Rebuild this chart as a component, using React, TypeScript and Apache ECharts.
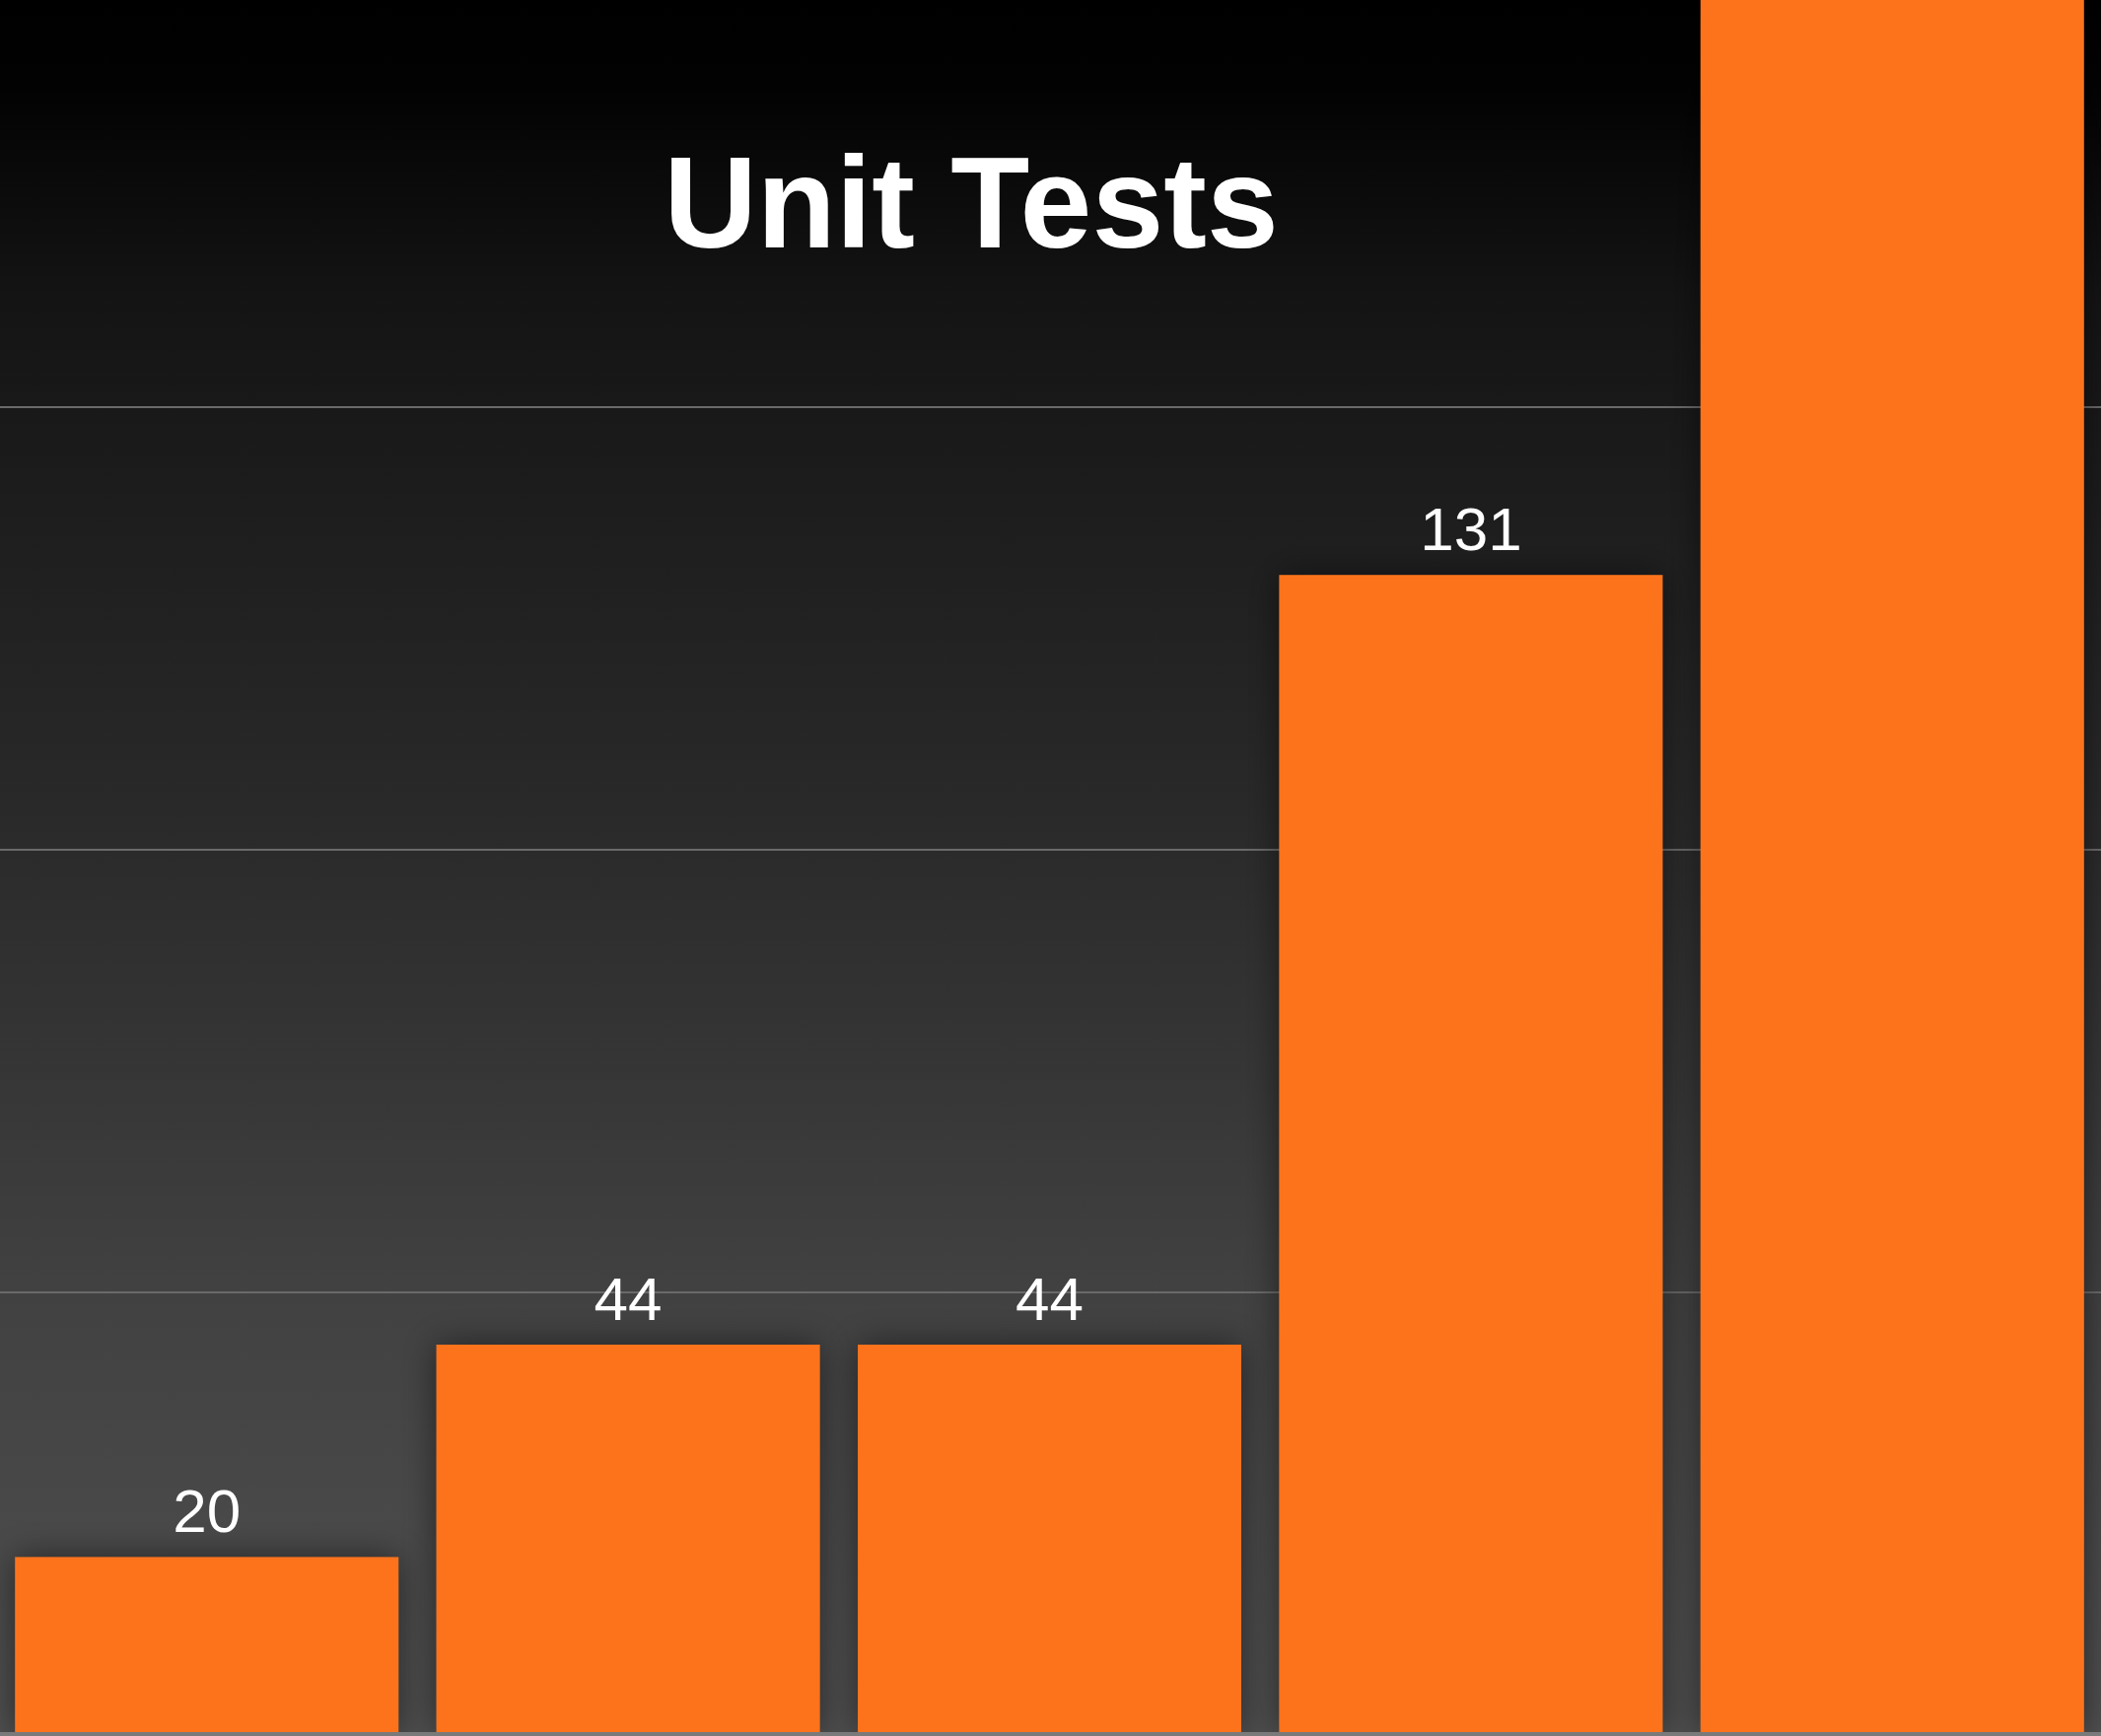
import React, { useEffect, useRef } from "react";
import * as echarts from "echarts";

const categories = ["Run 1", "Run 2", "Run 3", "Run 4", "Run 5"];
const unitTests = [20, 44, 44, 131, 230];
const titleText = "Unit Tests";
const yMin = 0;
const yMax = 196;
const yInterval = 50;

export default function App() {
  const ref = useRef<HTMLDivElement>(null);

  useEffect(() => {
    document.body.style.margin = "0";
    if (!ref.current) return;
    const chart = echarts.init(ref.current, undefined, { renderer: "svg" });
    const barData = unitTests.map((v) => ({
      value: v,
      label: { show: v <= yMax },
    }));
    chart.setOption({
      animation: false,
      graphic: [
        {
          type: "text",
          x: 989,
          y: 205,
          z: 100,
          style: {
            text: titleText,
            fill: "#ffffff",
            fontSize: 131,
            fontWeight: "bold",
            fontFamily: "Liberation Sans, Arial, sans-serif",
            align: "center",
            verticalAlign: "middle",
          },
        },
      ],
      grid: { left: 0, right: 0, top: 0, bottom: 2, containLabel: false },
      xAxis: {
        type: "category",
        data: categories,
        z: 10,
        axisLine: { show: true, lineStyle: { color: "#7a7a7a", width: 4 } },
        axisTick: { show: false },
        axisLabel: { show: false },
        splitLine: { show: false },
      },
      yAxis: {
        type: "value",
        min: yMin,
        max: yMax,
        interval: yInterval,
        axisLine: { show: false },
        axisTick: { show: false },
        axisLabel: { show: false },
        splitLine: {
          show: true,
          showMinLine: false,
          showMaxLine: false,
          lineStyle: { color: "#6a6a6a", width: 2 },
        },
      },
      series: [
        {
          type: "bar",
          data: barData,
          barCategoryGap: "9%",
          clip: true,
          itemStyle: {
            color: "#fd731b",
            shadowBlur: 34,
            shadowColor: "rgba(0,0,0,0.5)",
          },
          label: {
            show: true,
            position: "top",
            distance: 16,
            color: "#ffffff",
            fontSize: 62,
            fontFamily: "Liberation Sans, Arial, sans-serif",
          },
        },
      ],
    });
    return () => chart.dispose();
  }, []);

  return (
    <div
      style={{
        position: "absolute",
        left: 0,
        top: 0,
        width: 2131,
        height: 1761,
        overflow: "hidden",
        background:
          "linear-gradient(to bottom, #000000 0%, #020202 5%, #141414 17%, #1f1f1f 32%, #2b2b2b 49%, #363636 62%, #414141 74%, #4a4a4a 90%, #4f4f4f 100%)",
      }}
    >
      <div
        ref={ref}
        style={{
          position: "absolute",
          left: -4,
          top: 0,
          width: 2137,
          height: 1761,
        }}
      />
    </div>
  );
}
